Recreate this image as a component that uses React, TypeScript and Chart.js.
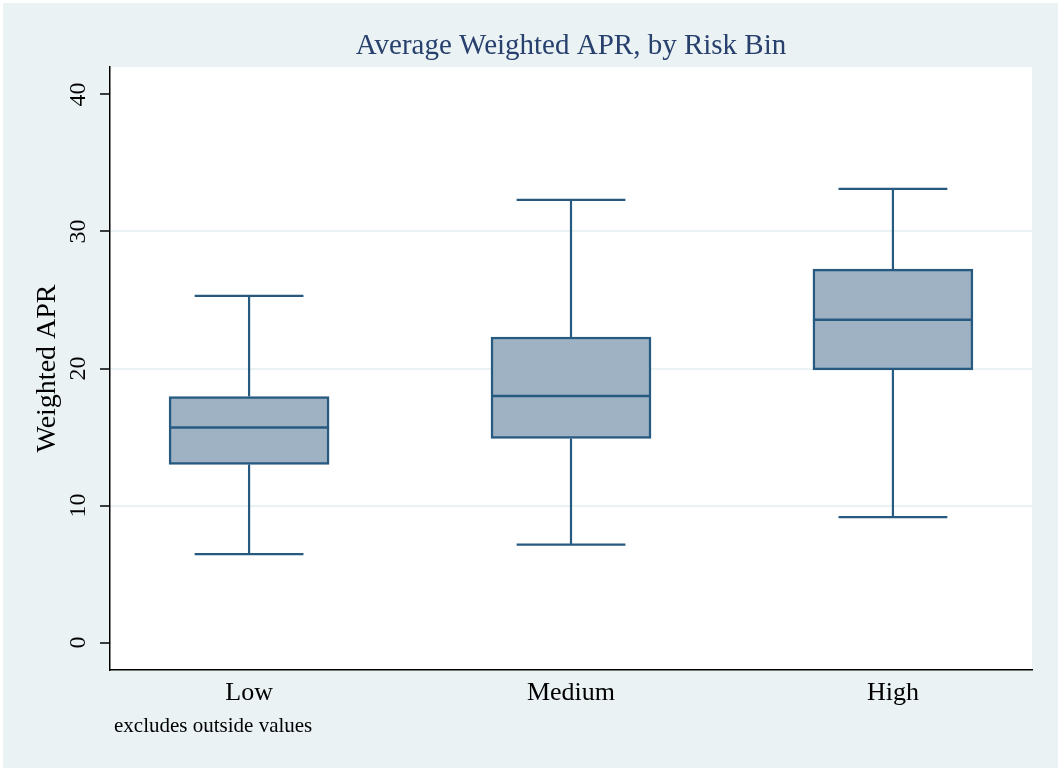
import React, { useEffect, useRef } from 'react';
import { Chart, registerables } from 'chart.js';

Chart.register(...registerables);

// ---- data ----
const categories = ['Low', 'Medium', 'High'];
const lowerWhisker = [6.45, 7.15, 9.15];
const q1 = [13.0, 14.9, 19.9];
const median = [15.7, 18.0, 23.55];
const q3 = [17.95, 22.3, 27.25];
const upperWhisker = [25.3, 32.3, 33.1];
const yTicks = [0, 10, 20, 30, 40];
const gridTicks = [10, 20, 30];
const titleText = 'Average Weighted APR, by Risk Bin';
const yTitleText = 'Weighted APR';
const noteText = 'excludes outside values';

const BG = '#EAF2F3';
const NAVY = '#27406d';
const BOX_LINE = '#275a80';
const BOX_FILL = '#9eb2c3';
const FONT = '"Liberation Serif", "Times New Roman", serif';

const boxPlugin = {
  id: 'boxExtras',
  beforeDraw(chart: any) {
    const { ctx, chartArea } = chart;
    ctx.save();
    ctx.fillStyle = '#ffffff';
    ctx.fillRect(0, 0, chart.width, chart.height);
    ctx.fillStyle = BG;
    ctx.fillRect(3, 3, chart.width - 6, chart.height - 6);
    ctx.fillStyle = '#ffffff';
    ctx.fillRect(chartArea.left, chartArea.top, chartArea.right - chartArea.left, chartArea.bottom - chartArea.top);
    ctx.restore();
  },
  afterDatasetsDraw(chart: any) {
    const { ctx } = chart;
    const xs = chart.scales.x;
    const ys = chart.scales.y;
    const meta = chart.getDatasetMeta(0);
    ctx.save();
    ctx.strokeStyle = BOX_LINE;
    ctx.lineCap = 'butt';
    categories.forEach((_, i) => {
      const x = xs.getPixelForValue(i + 1);
      const bw = meta.data[i] ? meta.data[i].width : 160;
      const capHalf = bw * 0.34;
      const yU = ys.getPixelForValue(upperWhisker[i]);
      const yQ3 = ys.getPixelForValue(q3[i]);
      const yQ1 = ys.getPixelForValue(q1[i]);
      const yL = ys.getPixelForValue(lowerWhisker[i]);
      const yM = ys.getPixelForValue(median[i]);
      ctx.lineWidth = 2.2;
      ctx.beginPath();
      ctx.moveTo(x, yQ3);
      ctx.lineTo(x, yU);
      ctx.moveTo(x - capHalf, yU);
      ctx.lineTo(x + capHalf, yU);
      ctx.moveTo(x, yQ1);
      ctx.lineTo(x, yL);
      ctx.moveTo(x - capHalf, yL);
      ctx.lineTo(x + capHalf, yL);
      ctx.stroke();
      ctx.lineWidth = 2.5;
      ctx.beginPath();
      ctx.moveTo(x - bw / 2, yM);
      ctx.lineTo(x + bw / 2, yM);
      ctx.stroke();
    });
    ctx.restore();
  },
  afterDraw(chart: any) {
    const { ctx, chartArea } = chart;
    const ys = chart.scales.y;
    ctx.save();
    // title
    ctx.fillStyle = NAVY;
    ctx.font = `29px ${FONT}`;
    ctx.textAlign = 'center';
    ctx.textBaseline = 'middle';
    ctx.fillText(titleText, (chartArea.left + chartArea.right) / 2, 46);
    // y tick labels, rotated
    ctx.fillStyle = '#000';
    ctx.font = `24px ${FONT}`;
    yTicks.forEach((v) => {
      const y = ys.getPixelForValue(v);
      ctx.save();
      ctx.translate(79, y);
      ctx.rotate(-Math.PI / 2);
      ctx.textAlign = 'center';
      ctx.textBaseline = 'middle';
      ctx.fillText(String(v), 0, 0);
      ctx.restore();
    });
    // y title
    ctx.font = `28px ${FONT}`;
    ctx.save();
    ctx.translate(48, (chartArea.top + chartArea.bottom) / 2);
    ctx.rotate(-Math.PI / 2);
    ctx.textAlign = 'center';
    ctx.textBaseline = 'middle';
    ctx.fillText(yTitleText, 0, 0);
    ctx.restore();
    // note
    ctx.font = `21px ${FONT}`;
    ctx.textAlign = 'left';
    ctx.textBaseline = 'middle';
    ctx.fillText(noteText, 114, 726);
    ctx.restore();
  },
};

export default function App() {
  const ref = useRef<HTMLCanvasElement | null>(null);
  useEffect(() => {
    if (!ref.current) return;
    const chart = new Chart(ref.current, {
      type: 'bar',
      data: {
        datasets: [
          {
            label: 'APR',
            data: categories.map((_, i) => ({ x: i + 1, y: [q1[i], q3[i]] })) as any,
            backgroundColor: BOX_FILL,
            borderColor: BOX_LINE,
            borderWidth: 2.5,
            borderSkipped: false,
            barThickness: 160,
          },
        ],
      },
      plugins: [boxPlugin],
      options: {
        animation: false,
        responsive: false,
        devicePixelRatio: 1,
        layout: { padding: { left: 0, right: 29, top: 67, bottom: 0 } },
        plugins: {
          legend: { display: false },
          title: { display: false },
          tooltip: { enabled: false },
        },
        scales: {
          x: {
            type: 'linear',
            offset: false,
            min: 0.568,
            max: 3.432,
            afterBuildTicks: (s: any) => {
              s.ticks = categories.map((_, i) => ({ value: i + 1 }));
            },
            afterFit: (s: any) => {
              s.height = 101;
            },
            ticks: {
              callback: (v: any) => categories[Number(v) - 1] ?? '',
              font: { family: FONT, size: 26 },
              color: '#000',
              padding: 8,
              maxRotation: 0,
              minRotation: 0,
              autoSkip: false,
            },
            grid: { display: false, drawTicks: false, offset: false },
            border: { display: true, color: '#000', width: 1.5 },
          },
          y: {
            type: 'linear',
            min: -2,
            max: 42,
            afterBuildTicks: (s: any) => {
              s.ticks = yTicks.map((v) => ({ value: v }));
            },
            afterFit: (s: any) => {
              s.width = 110;
            },
            ticks: { display: false },
            grid: {
              display: true,
              drawTicks: true,
              tickLength: 10,
              tickWidth: 1.5,
              tickColor: '#000',
              lineWidth: 2,
              color: (c: any) => (c.tick && gridTicks.includes(c.tick.value) ? BG : 'rgba(0,0,0,0)'),
            },
            border: { display: true, color: '#000', width: 1.5 },
          },
        },
      },
    });
    return () => chart.destroy();
  }, []);
  return (
    <div style={{ position: 'absolute', left: 0, top: 0, width: 1061, height: 771 }}>
      <canvas ref={ref} width={1061} height={771} style={{ display: 'block', width: 1061, height: 771 }} />
    </div>
  );
}
